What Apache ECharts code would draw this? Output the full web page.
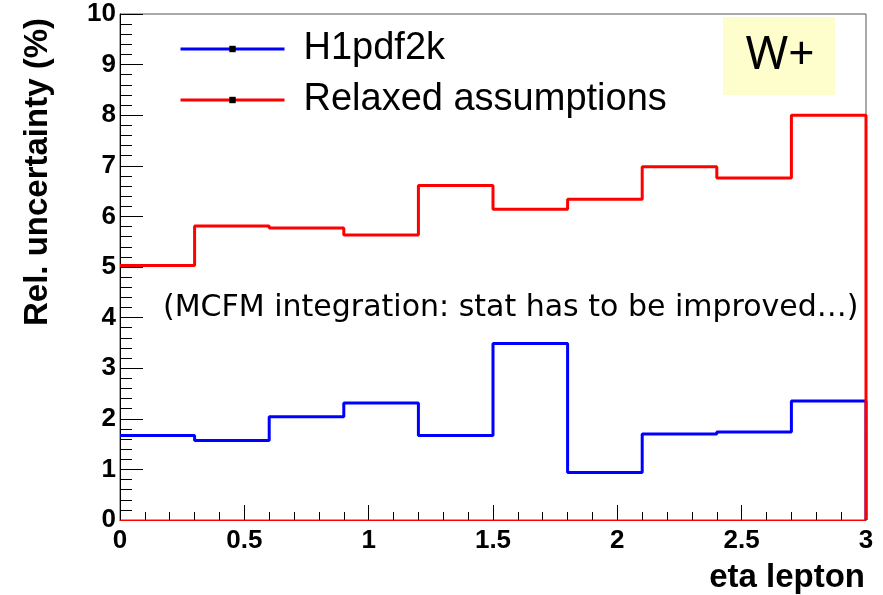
<!DOCTYPE html>
<html>
<head>
<meta charset="utf-8">
<script src="https://cdn.jsdelivr.net/npm/echarts@6/dist/echarts.min.js"></script>
<style>
  html, body { margin: 0; padding: 0; background: #fff; }
  #chart { width: 883px; height: 595px; }
</style>
</head>
<body>
<div id="chart"></div>
<script>
// bin edges (eta lepton), 10 bins of 0.3
var binEdges = [0, 0.3, 0.6, 0.9, 1.2, 1.5, 1.8, 2.1, 2.4, 2.7, 3.0];
var h1pdf2k = [1.67, 1.57, 2.04, 2.31, 1.67, 3.49, 0.94, 1.70, 1.74, 2.35];
var relaxed = [5.03, 5.81, 5.77, 5.63, 6.61, 6.14, 6.34, 6.98, 6.76, 8.00];
var yTicks = [0, 1, 2, 3, 4, 5, 6, 7, 8, 9, 10];
var xTicks = [0, 0.5, 1, 1.5, 2, 2.5, 3];

// histogram outline: left edge of each bin, then close at the last edge and drop to 0
function stepData(vals) {
    var pts = [];
    for (var i = 0; i < vals.length; i++) {
        pts.push([binEdges[i], vals[i]]);
    }
    pts.push([binEdges[vals.length], vals[vals.length - 1]]);
    pts.push([binEdges[vals.length], 0]);
    return pts;
}

var chart = echarts.init(document.getElementById('chart'));

var labelFont = {
    color: '#000',
    fontFamily: 'Liberation Sans',
    fontWeight: 'bold',
    fontSize: 26
};

var option = {
    animation: false,
    grid: {
        left: 120,
        right: 17,
        top: 14,
        bottom: 75,
        show: true,
        borderColor: '#555',
        borderWidth: 1
    },
    legend: {
        orient: 'vertical',
        left: 174,
        top: 19,
        itemWidth: 104,
        itemHeight: 8,
        itemGap: 1,
        data: ['H1pdf2k', 'Relaxed assumptions'],
        lineStyle: { width: 3 },
        textStyle: {
            fontFamily: 'Liberation Sans',
            fontSize: 38,
            color: '#000',
            lineHeight: 50,
            padding: [0, 0, 0, 14]
        }
    },
    xAxis: {
        type: 'value',
        min: 0,
        max: 3,
        interval: 0.5,
        splitLine: { show: false },
        axisLine: { lineStyle: { color: '#000', width: 1 } },
        axisTick: { inside: true, length: 15, lineStyle: { color: '#000' } },
        minorTick: { show: true, splitNumber: 5, length: 8, lineStyle: { color: '#000' } },
        axisLabel: Object.assign({ margin: 8, formatter: function (v) { return xTicks.indexOf(v) >= 0 ? String(v) : ''; } }, labelFont)
    },
    yAxis: {
        type: 'value',
        min: 0,
        max: 10,
        interval: 1,
        splitLine: { show: false },
        axisLine: { show: true, lineStyle: { color: '#000', width: 1 } },
        axisTick: { inside: true, length: 23, lineStyle: { color: '#000' } },
        minorTick: { show: true, splitNumber: 5, length: 12, lineStyle: { color: '#000' } },
        axisLabel: Object.assign({ margin: 4, formatter: function (v) { return yTicks.indexOf(v) >= 0 ? String(v) : ''; } }, labelFont)
    },
    series: [
        {
            name: 'H1pdf2k',
            type: 'line',
            step: 'end',
            data: stepData(h1pdf2k),
            showSymbol: false,
            symbol: 'rect',
            symbolSize: 5,
            itemStyle: { color: '#000' },
            lineStyle: { color: '#0000ff', width: 3 }
        },
        {
            name: 'Relaxed assumptions',
            type: 'line',
            step: 'end',
            data: stepData(relaxed),
            showSymbol: false,
            symbol: 'rect',
            symbolSize: 5,
            itemStyle: { color: '#000' },
            lineStyle: { color: '#ff0000', width: 3 },
            markLine: {
                silent: true,
                symbol: 'none',
                label: { show: false },
                lineStyle: { color: '#ff0000', width: 1, type: 'solid' },
                data: [{ yAxis: 0 }]
            }
        }
    ],
    graphic: [
        {
            type: 'text',
            x: 38,
            y: 172,
            rotation: Math.PI / 2,
            style: {
                text: 'Rel. uncertainty (%)',
                fontFamily: 'Liberation Sans',
                fontWeight: 'bold',
                fontSize: 33,
                fill: '#000',
                align: 'center',
                verticalAlign: 'middle'
            }
        },
        {
            type: 'text',
            x: 865,
            y: 578,
            style: {
                text: 'eta lepton',
                fontFamily: 'Liberation Sans',
                fontWeight: 'bold',
                fontSize: 33,
                fill: '#000',
                align: 'right',
                verticalAlign: 'middle'
            }
        },
        {
            type: 'rect',
            shape: { x: 723, y: 17, width: 112, height: 78 },
            style: { fill: '#fefecd' }
        },
        {
            type: 'text',
            x: 780,
            y: 56,
            style: {
                text: 'W+',
                fontFamily: 'Noto Sans',
                fontSize: 46,
                fill: '#000',
                align: 'center',
                verticalAlign: 'middle'
            }
        },
        {
            type: 'text',
            x: 163,
            y: 308,
            style: {
                text: '(MCFM integration: stat has to be improved\u2026)',
                fontFamily: 'DejaVu Sans',
                fontSize: 30,
                fill: '#000',
                align: 'left',
                verticalAlign: 'middle'
            }
        }
    ]
};

chart.setOption(option);
</script>
</body>
</html>
